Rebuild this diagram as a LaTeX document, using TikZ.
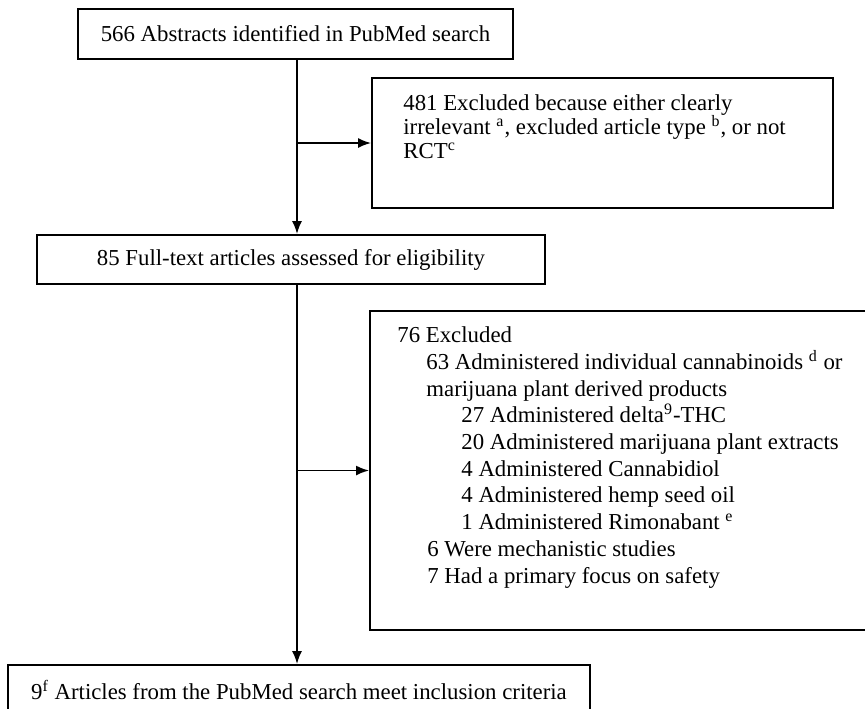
\documentclass[tikz,border=0pt]{standalone}
\usepackage{fontspec}
\setmainfont{Liberation Serif}
\usetikzlibrary{positioning,arrows.meta}

\begin{document}
\begin{tikzpicture}[x=0.5pt, y=-0.5pt,
  every node/.style={font=\fontsize{11.4}{13.35}\selectfont},
  box/.style={draw, line width=1pt, inner sep=0pt, minimum height=25pt},
  txt/.style={align=left, inner sep=0pt},
  arr/.style={line width=0.8pt, -{Latex[length=6.5pt,width=5pt]}}]
\useasboundingbox (0,0) rectangle (865,708);
\clip (0,0) rectangle (865,708);
\node[box, minimum width=217.5pt] (abs) at (295.5,34) {566 Abstracts identified in PubMed search};
\node[box, minimum width=254pt, minimum height=24.5pt] (full) at (291,259.5) {85 Full-text articles assessed for eligibility};
\node[box, minimum width=291pt] (incl) at (299,690) {9\textsuperscript{f} Articles from the PubMed search meet inclusion criteria};
\node[box, minimum width=230.5pt, minimum height=65pt] (excl1) at (602.5,143) {};
\node[box, minimum width=255pt, minimum height=159.5pt] (excl2) at (625,470.5) {};
\node[txt, font=\fontsize{11.4}{12}\selectfont, below right=8.5pt and 16pt of excl1.north west] (excl1txt)
  {481 Excluded because either clearly\\
   irrelevant \textsuperscript{a}, excluded article type \textsuperscript{b}, or not\\
   RCT\textsuperscript{c}};
\node[txt, below right=8.25pt and 14pt of excl2.north west] (excl2txt)
  {76 Excluded\\
   \hspace*{14.5pt}63 Administered individual cannabinoids \textsuperscript{d} or\\
   \hspace*{14.5pt}marijuana plant derived products\\
   \hspace*{32pt}27 Administered delta\textsuperscript{9}-THC\\
   \hspace*{32pt}20 Administered marijuana plant extracts\\
   \hspace*{32pt}4 Administered Cannabidiol\\
   \hspace*{32pt}4 Administered hemp seed oil\\
   \hspace*{32pt}1 Administered Rimonabant \textsuperscript{e}\\
   \hspace*{15pt}6 Were mechanistic studies\\
   \hspace*{15pt}7 Had a primary focus on safety};
\coordinate (trunk) at (297,0);
\draw[arr] (abs.south -| trunk) -- (full.north -| trunk);
\draw[arr] (full.south -| trunk) -- (incl.north -| trunk);
\draw[arr] (excl1.west -| trunk) -- (excl1.west);
\draw[arr] (excl2.west -| trunk) -- (excl2.west);
\end{tikzpicture}
\end{document}
